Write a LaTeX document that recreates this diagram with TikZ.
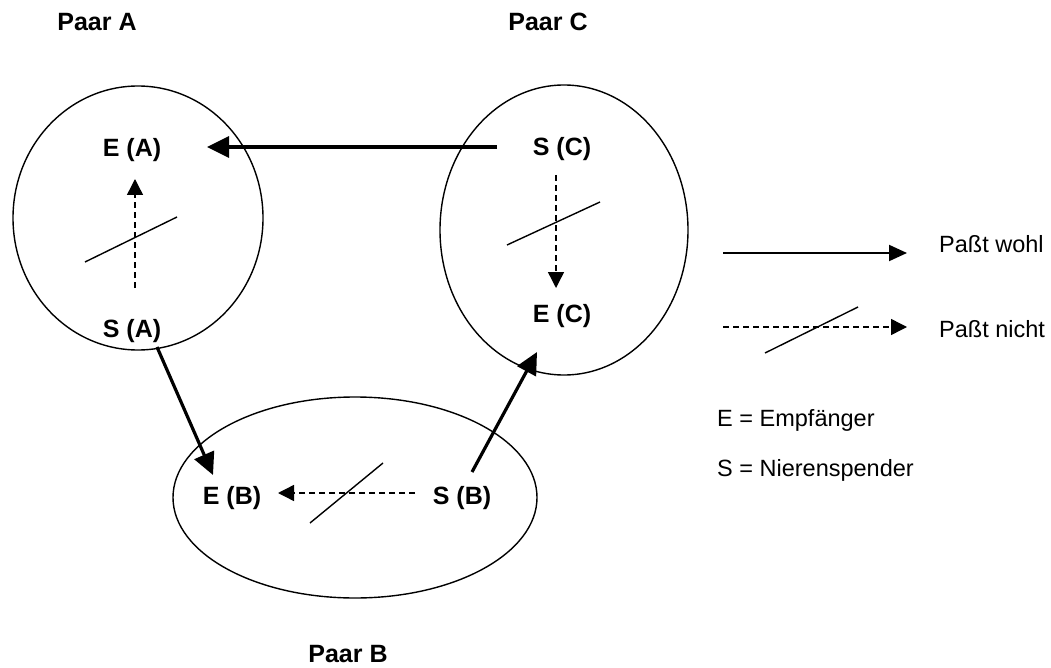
\documentclass[tikz,border=0pt]{standalone}
\usepackage{fontspec}
\setmainfont{Liberation Sans}
\usetikzlibrary{arrows.meta,shapes.geometric}
\tikzset{
  lbl/.style={font=\fontsize{25}{30}\selectfont\bfseries, inner sep=0pt},
  legtxt/.style={font=\fontsize{23.5}{28}\selectfont, inner sep=0pt, anchor=west},
  pair/.style={draw, ellipse, line width=1.4pt, inner sep=0pt},
  good/.style={line width=3.2pt, -{Triangle[length=22pt,width=21pt]}},
  bad/.style={line width=1.4pt, dash pattern=on 6pt off 4pt, -{Triangle[length=16pt,width=16pt]}},
  slash/.style={line width=1.4pt},
}
\begin{document}
\begin{tikzpicture}[x=1pt,y=-1pt]
\useasboundingbox (0,0) rectangle (1051,668);
% pairs
\node[pair, minimum width=250pt, minimum height=264pt] (pairA) at (138,218) {};
\node[pair, minimum width=248pt, minimum height=290pt] (pairC) at (564,230) {};
\node[pair, minimum width=364pt, minimum height=201pt] (pairB) at (355,497.5) {};
% titles
\node[lbl] (tA) at (97,22) {Paar A};
\node[lbl] (tC) at (548,22) {Paar C};
\node[lbl] (tB) at (348,654) {Paar B};
% persons
\node[lbl] (ea) at (132,150) {E (A)};
\node[lbl] (sa) at (132,331) {S (A)};
\node[lbl] (sc) at (562,149) {S (C)};
\node[lbl] (ec) at (562,316) {E (C)};
\node[lbl] (eb) at (232,498) {E (B)};
\node[lbl] (sb) at (462,498) {S (B)};
% connector end points
\coordinate (scOut) at (497,147);
\coordinate (eaIn) at (207,147);
\coordinate (saOut) at (157,347);
\coordinate (ebIn) at (213,475);
\coordinate (sbOut) at (472,472);
\coordinate (ecIn) at (537,352);
\coordinate (saUp) at (135,288);
\coordinate (eaDown) at (135,179);
\coordinate (scDown) at (556,175);
\coordinate (ecUp) at (556,288);
\coordinate (sbLeft) at (415,493);
\coordinate (ebRight) at (278,493);
% good matches
\draw[good] (scOut) -- (eaIn);
\draw[good] (saOut) -- (ebIn);
\draw[good] (sbOut) -- (ecIn);
% bad matches
\draw[bad] (saUp) -- (eaDown);
\draw[slash] (85,262) -- (177,217);
\draw[bad] (scDown) -- (ecUp);
\draw[slash] (507,245) -- (600,202);
\draw[bad] (sbLeft) -- (ebRight);
\draw[slash] (310,523) -- (383,463);
% legend
\coordinate (l1a) at (723,253);
\coordinate (l1b) at (907,253);
\draw[line width=2pt, -{Triangle[length=18pt,width=16pt]}] (l1a) -- (l1b);
\node[legtxt] (lgood) at (939,244) {Paßt wohl};
\coordinate (l2a) at (723,327);
\coordinate (l2b) at (907,327);
\draw[bad] (l2a) -- (l2b);
\draw[slash] (765,353) -- (858,307);
\node[legtxt] (lbad) at (939,329) {Paßt nicht};
\node[legtxt] (lE) at (717,420) {E = Empfänger};
\node[legtxt] (lS) at (717,470) {S = Nierenspender};
\end{tikzpicture}
\end{document}
